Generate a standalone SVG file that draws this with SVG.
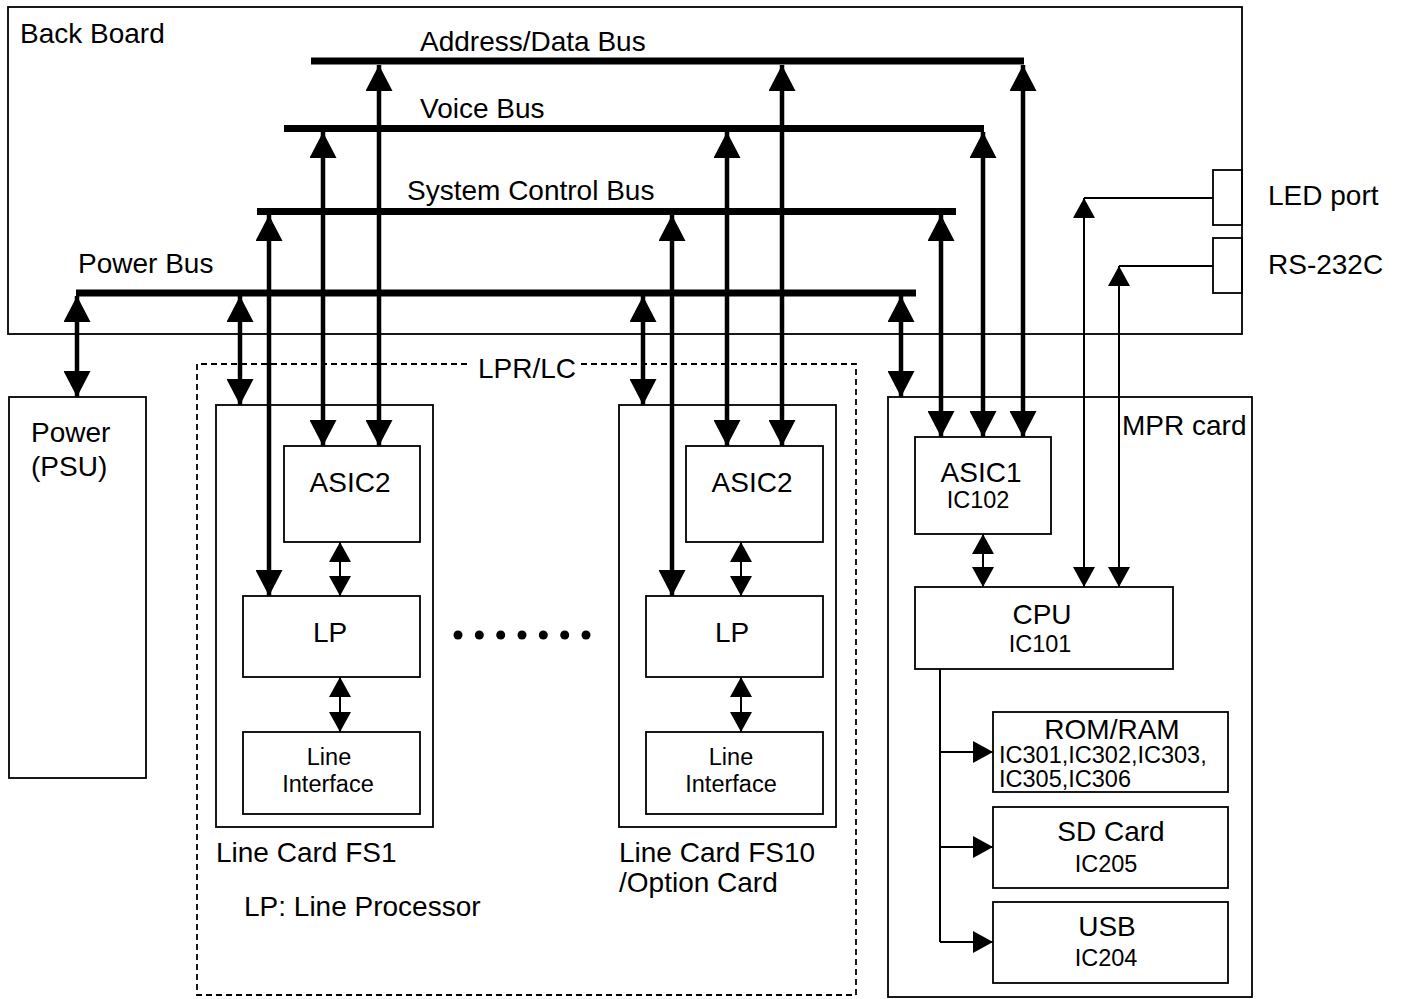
<svg xmlns="http://www.w3.org/2000/svg" width="1405" height="999" viewBox="0 0 1405 999">
<defs>
<marker id="ah" markerUnits="userSpaceOnUse" markerWidth="26" markerHeight="27" viewBox="0 0 26 27" refX="26" refY="13.5" orient="auto-start-reverse"><path d="M0,0 L26,13.5 L0,27 z" fill="#000"/></marker>
<marker id="as" markerUnits="userSpaceOnUse" markerWidth="20" markerHeight="22" viewBox="0 0 20 22" refX="20" refY="11" orient="auto-start-reverse"><path d="M0,0 L20,11 L0,22 z" fill="#000"/></marker>
<style>
.box{fill:none;stroke:#000;stroke-width:1.8}
.dash{fill:none;stroke:#000;stroke-width:1.8;stroke-dasharray:6,4}
.bus{stroke:#000;stroke-width:7;fill:none}
.thick{stroke:#000;stroke-width:4.5;fill:none;marker-start:url(#ah);marker-end:url(#ah)}
.thin2{stroke:#000;stroke-width:2;fill:none;marker-start:url(#as);marker-end:url(#as)}
.thin1{stroke:#000;stroke-width:2;fill:none;marker-end:url(#as)}
.ln{stroke:#000;stroke-width:2;fill:none}
text{font-family:"Liberation Sans",Arial,Helvetica,sans-serif;font-size:28px;fill:#000}
text.s{font-size:23.5px}
text.c{text-anchor:middle}
</style>
</defs>

<g id="backboard">
<rect class="box" x="8" y="7" width="1234" height="327"/>
<text x="20" y="43">Back Board</text>
</g>

<g id="buses">
<line class="bus" x1="311" y1="61" x2="1024" y2="61"/>
<text x="420" y="51">Address/Data Bus</text>
<line class="bus" x1="284" y1="128.5" x2="984" y2="128.5"/>
<text x="420" y="118">Voice Bus</text>
<line class="bus" x1="257" y1="211.5" x2="956" y2="211.5"/>
<text x="407" y="200">System Control Bus</text>
<line class="bus" x1="76" y1="293" x2="916" y2="293"/>
<text x="78" y="273">Power Bus</text>
</g>

<g id="led-port">
<rect class="box" x="1213" y="170" width="29" height="55"/>
<text x="1268" y="205">LED port</text>
</g>
<g id="rs232c">
<rect class="box" x="1213" y="238" width="29" height="55"/>
<text x="1268" y="274">RS-232C</text>
</g>

<g id="power">
<rect class="box" x="9" y="397" width="137" height="381"/>
<text x="31" y="442">Power</text>
<text x="31" y="476">(PSU)</text>
</g>

<g id="lpr-lc">
<path class="dash" d="M467,364 H197 V995 H856 V364 H579"/>
<text x="478" y="378">LPR/LC</text>
</g>

<g id="linecard-fs1">
<rect class="box" x="216" y="405" width="217" height="422"/>
<text x="216" y="862">Line Card FS1</text>
</g>
<g id="asic2-fs1">
<rect class="box" x="284" y="446" width="136" height="96"/>
<text class="c" x="350" y="492">ASIC2</text>
</g>
<g id="lp-fs1">
<rect class="box" x="243" y="596" width="177" height="81"/>
<text class="c" x="330" y="642">LP</text>
</g>
<g id="li-fs1">
<rect class="box" x="243" y="732" width="177" height="82"/>
<text class="c s" x="329" y="765">Line</text>
<text class="c s" x="328" y="792">Interface</text>
</g>

<g id="linecard-fs10">
<rect class="box" x="619" y="405" width="217" height="422"/>
<text x="619" y="862">Line Card FS10</text>
<text x="619" y="892">/Option Card</text>
</g>
<g id="asic2-fs10">
<rect class="box" x="686" y="446" width="137" height="96"/>
<text class="c" x="752" y="492">ASIC2</text>
</g>
<g id="lp-fs10">
<rect class="box" x="646" y="596" width="177" height="81"/>
<text class="c" x="732" y="642">LP</text>
</g>
<g id="li-fs10">
<rect class="box" x="646" y="732" width="177" height="82"/>
<text class="c s" x="731" y="765">Line</text>
<text class="c s" x="731" y="792">Interface</text>
</g>

<g id="ellipsis">
<circle cx="458" cy="635" r="4.5"/><circle cx="479.3" cy="635" r="4.5"/><circle cx="500.7" cy="635" r="4.5"/><circle cx="522" cy="635" r="4.5"/><circle cx="543.3" cy="635" r="4.5"/><circle cx="564.7" cy="635" r="4.5"/><circle cx="586" cy="635" r="4.5"/>
</g>

<g id="legend">
<text x="244" y="916">LP: Line Processor</text>
</g>

<g id="mpr-card">
<rect class="box" x="888" y="397" width="364" height="600"/>
<text x="1122" y="435">MPR card</text>
</g>
<g id="asic1">
<rect class="box" x="915" y="437" width="136" height="97"/>
<text class="c" x="981" y="482">ASIC1</text>
<text class="c s" x="978" y="508">IC102</text>
</g>
<g id="cpu">
<rect class="box" x="915" y="587" width="258" height="82"/>
<text class="c" x="1042" y="624">CPU</text>
<text class="c s" x="1040" y="652">IC101</text>
</g>
<g id="rom-ram">
<rect class="box" x="993" y="712" width="235" height="80"/>
<text class="c" x="1112" y="739">ROM/RAM</text>
<text class="s" x="999" y="763">IC301,IC302,IC303,</text>
<text class="s" x="999" y="787">IC305,IC306</text>
</g>
<g id="sd-card">
<rect class="box" x="993" y="807" width="235" height="81"/>
<text class="c" x="1111" y="841">SD Card</text>
<text class="c s" x="1106" y="872">IC205</text>
</g>
<g id="usb">
<rect class="box" x="993" y="902" width="235" height="81"/>
<text class="c" x="1107" y="936">USB</text>
<text class="c s" x="1106" y="966">IC204</text>
</g>

<g id="connectors">
<line class="thick" x1="77" y1="296" x2="77" y2="397"/>
<line class="thick" x1="240" y1="296" x2="240" y2="405"/>
<line class="thick" x1="643" y1="296" x2="643" y2="405"/>
<line class="thick" x1="901" y1="296" x2="901" y2="397"/>
<line class="thick" x1="269" y1="215" x2="269" y2="596"/>
<line class="thick" x1="672" y1="215" x2="672" y2="596"/>
<line class="thick" x1="941" y1="215" x2="941" y2="437"/>
<line class="thick" x1="323" y1="132" x2="323" y2="446"/>
<line class="thick" x1="727" y1="132" x2="727" y2="446"/>
<line class="thick" x1="983" y1="132" x2="983" y2="437"/>
<line class="thick" x1="379" y1="65" x2="379" y2="446"/>
<line class="thick" x1="782" y1="65" x2="782" y2="446"/>
<line class="thick" x1="1023" y1="65" x2="1023" y2="437"/>
<line class="thin2" x1="340" y1="542" x2="340" y2="596"/>
<line class="thin2" x1="340" y1="677" x2="340" y2="732"/>
<line class="thin2" x1="741" y1="542" x2="741" y2="596"/>
<line class="thin2" x1="741" y1="677" x2="741" y2="732"/>
<line class="thin2" x1="983" y1="534" x2="983" y2="587"/>
<line class="ln" x1="1213" y1="198" x2="1084" y2="198"/>
<line class="thin2" x1="1084" y1="198" x2="1084" y2="587"/>
<line class="ln" x1="1213" y1="266" x2="1119" y2="266"/>
<line class="thin2" x1="1119" y1="266" x2="1119" y2="587"/>
<line class="ln" x1="940" y1="669" x2="940" y2="942"/>
<line class="thin1" x1="940" y1="752" x2="993" y2="752"/>
<line class="thin1" x1="940" y1="847" x2="993" y2="847"/>
<line class="thin1" x1="940" y1="942" x2="993" y2="942"/>
</g>
</svg>
